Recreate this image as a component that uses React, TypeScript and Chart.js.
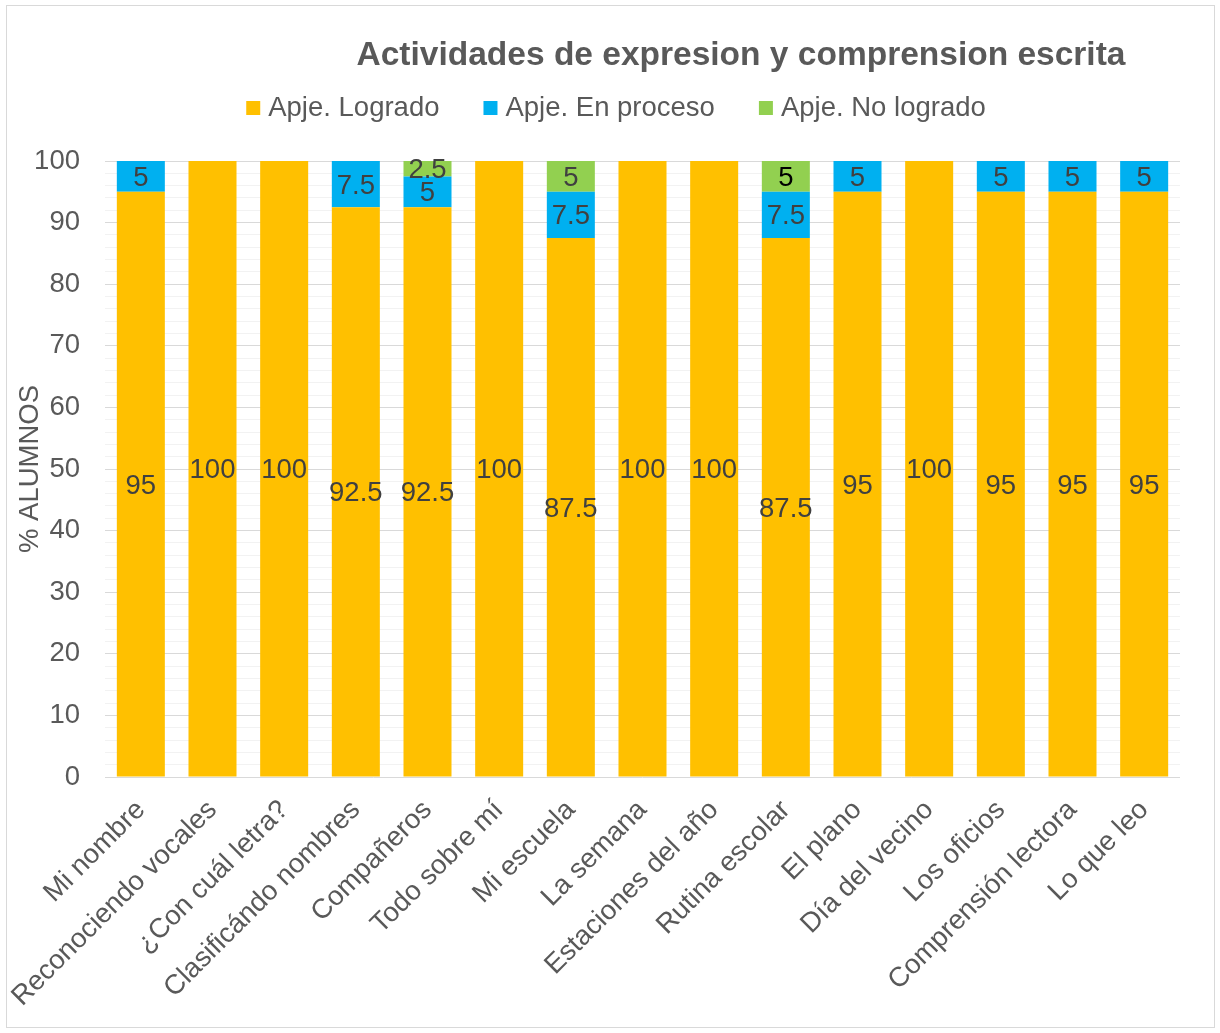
import React, { useEffect, useRef } from 'react';
import { Chart, registerables } from 'chart.js';

Chart.register(...registerables);

const chartTitle = 'Actividades de expresion y comprension escrita';
const yAxisTitle = '% ALUMNOS';
const seriesNames = ['Apje. Logrado', 'Apje. En proceso', 'Apje. No logrado'];

const categories = [
  'Mi nombre',
  'Reconociendo vocales',
  '¿Con cuál letra?',
  'Clasificándo nombres',
  'Compañeros',
  'Todo sobre mí',
  'Mi escuela',
  'La semana',
  'Estaciones del año',
  'Rutina escolar',
  'El plano',
  'Día del vecino',
  'Los oficios',
  'Comprensión lectora',
  'Lo que leo',
];

const logrado = [95, 100, 100, 92.5, 92.5, 100, 87.5, 100, 100, 87.5, 95, 100, 95, 95, 95];
const enProceso = [5, 0, 0, 7.5, 5, 0, 7.5, 0, 0, 7.5, 5, 0, 5, 5, 5];
const noLogrado = [0, 0, 0, 0, 2.5, 0, 5, 0, 0, 5, 0, 0, 0, 0, 0];

const yMin = 0;
const yMax = 100;
const yMajorStep = 10;
const yMinorStep = 2;

const COLORS = ['#FFC000', '#00B0F0', '#92D050'];
const FONT = '"Liberation Sans", Arial, Helvetica, sans-serif';
const TEXT = '#595959';

export default function App() {
  const ref = useRef<HTMLCanvasElement>(null);

  useEffect(() => {
    document.body.style.margin = '0';
    const canvas = ref.current;
    if (!canvas) return;

    const decor = {
      id: 'decor',
      afterDatasetsDraw(chart: any) {
        const ctx = chart.ctx;
        ctx.save();
        ctx.font = `27.5px ${FONT}`;
        ctx.textAlign = 'center';
        ctx.textBaseline = 'middle';
        chart.data.datasets.forEach((ds: any, i: number) => {
          const meta = chart.getDatasetMeta(i);
          meta.data.forEach((bar: any, j: number) => {
            const v = ds.data[j];
            if (!v) return;
            const p = bar.getProps(['x', 'y', 'base'], true);
            ctx.fillStyle = i === 2 && j === 9 ? '#000000' : '#404040';
            ctx.fillText(String(v), p.x, (p.y + p.base) / 2 + 2);
          });
        });
        ctx.restore();
      },
      afterDraw(chart: any) {
        const ctx = chart.ctx;
        const area = chart.chartArea;
        ctx.save();
        // outer border
        ctx.strokeStyle = '#d9d9d9';
        ctx.lineWidth = 1;
        ctx.strokeRect(6.5, 5.5, 1208, 1022);
        // title
        ctx.fillStyle = TEXT;
        ctx.font = `bold 33.5px ${FONT}`;
        ctx.textAlign = 'center';
        ctx.textBaseline = 'middle';
        ctx.fillText(chartTitle, 741, 56);
        // legend
        ctx.font = `27.5px ${FONT}`;
        ctx.textAlign = 'left';
        const box = 14;
        const gapBox = 8;
        const gapItem = 44;
        const widths = seriesNames.map((n) => box + gapBox + ctx.measureText(n).width);
        const total = widths.reduce((a, b) => a + b, 0) + gapItem * (widths.length - 1);
        let x = 616 - total / 2;
        const ly = 108;
        seriesNames.forEach((n, i) => {
          ctx.fillStyle = COLORS[i];
          ctx.fillRect(x, ly - box / 2, box, box);
          ctx.fillStyle = TEXT;
          ctx.fillText(n, x + box + gapBox, ly);
          x += widths[i] + gapItem;
        });
        // y axis title
        ctx.translate(30, (area.top + area.bottom) / 2);
        ctx.rotate(-Math.PI / 2);
        ctx.textAlign = 'center';
        ctx.fillStyle = TEXT;
        ctx.fillText(yAxisTitle, 0, 0);
        ctx.restore();
      },
    };

    const chart = new Chart(canvas, {
      type: 'bar',
      data: {
        labels: categories,
        datasets: [
          { label: seriesNames[0], data: logrado, backgroundColor: COLORS[0] },
          { label: seriesNames[1], data: enProceso, backgroundColor: COLORS[1] },
          { label: seriesNames[2], data: noLogrado, backgroundColor: COLORS[2] },
        ],
      },
      options: {
        animation: false,
        responsive: false,
        layout: { padding: { top: 161, right: 40, left: 0, bottom: 0 } },
        datasets: { bar: { barPercentage: 0.67, categoryPercentage: 1 } },
        plugins: {
          legend: { display: false },
          title: { display: false },
          tooltip: { enabled: false },
        },
        scales: {
          x: {
            stacked: true,
            grid: { display: false },
            border: { display: false },
            ticks: {
              autoSkip: false,
              minRotation: 45,
              maxRotation: 45,
              padding: 9,
              color: TEXT,
              font: { family: FONT, size: 27.5 },
            },
            afterFit(s: any) {
              s.height = 256;
            },
          },
          y: {
            stacked: true,
            min: yMin,
            max: yMax,
            ticks: {
              stepSize: yMinorStep,
              autoSkip: false,
              padding: 25,
              color: TEXT,
              font: { family: FONT, size: 27.5 },
              callback: (v: any) => (Number(v) % yMajorStep === 0 ? String(v) : ''),
            },
            grid: {
              drawTicks: false,
              color: (c: any) => (c.tick && c.tick.value % yMajorStep === 0 ? '#d9d9d9' : '#f2f2f2'),
              lineWidth: 1,
            },
            border: { display: false },
            afterFit(s: any) {
              s.width = 105;
            },
          },
        },
      },
      plugins: [decor],
    } as any);

    return () => chart.destroy();
  }, []);

  return <canvas ref={ref} width={1220} height={1033} style={{ display: 'block' }} />;
}
